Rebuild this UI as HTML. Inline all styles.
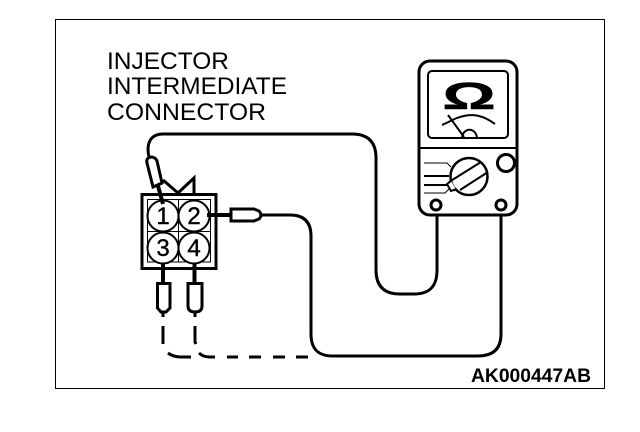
<!DOCTYPE html>
<html><head><meta charset="utf-8"><style>
html,body{margin:0;padding:0;background:#fff}
svg{display:block}
text{font-family:"Liberation Sans",sans-serif;fill:#000}
</style></head><body>
<svg width="640" height="432" viewBox="0 0 640 432" xmlns="http://www.w3.org/2000/svg">
<rect x="55.5" y="19.5" width="549" height="369" fill="none" stroke="#000" stroke-width="1"/>
<text x="107" y="69" font-size="24" textLength="122" lengthAdjust="spacingAndGlyphs">INJECTOR</text>
<text x="107" y="94" font-size="24" textLength="180" lengthAdjust="spacingAndGlyphs">INTERMEDIATE</text>
<text x="107" y="120" font-size="24" textLength="159" lengthAdjust="spacingAndGlyphs">CONNECTOR</text>
<text x="471" y="382" font-size="19" font-weight="bold" textLength="120" lengthAdjust="spacingAndGlyphs">AK000447AB</text>

<g fill="none" stroke="#000" stroke-width="3">
<!-- wires -->
<path d="M149 157 C146 144 150 134 163 134 L352 134 C368 134 376 142 376 158 L376 270 C376 286 384 294 400 294 L414 294 C430 294 437 286 437 270 L437 208"/>
<path d="M258 215 L290 215 C304 215 311 222 311 236 L311 334 C311 349 318 356 333 356 L478 356 C493 356 501 349 501 334 L501 208"/>
<!-- connector -->
<rect x="142" y="194.500" width="74" height="74" stroke-width="3"/>
<path d="M163 180 L178 193 L194 178 L194 193" />
<path d="M147.500 199.500 H210.500 V262 H147.500 Z M178.500 199 V262 M147 231.500 H211" stroke-width="1"/>
<g fill="#fff" stroke-width="2">
<circle cx="163" cy="216" r="15.500"/><circle cx="194" cy="216" r="15.500"/>
<circle cx="163" cy="248" r="15.500"/><circle cx="194" cy="248" r="15.500"/>
</g>
</g>
<g font-size="24" text-anchor="middle" stroke="#000" stroke-width="0.400">
<text x="163" y="224">1</text><text x="194" y="224">2</text>
<text x="163" y="256">3</text><text x="194" y="256">4</text>
</g>
<g fill="none" stroke="#000">
<!-- probe 1 -->
<path d="M158 186 L163 204" stroke-width="4"/>
<path d="M147 163 C145 156 155 155 157 161 L162 183 L153 187 Z" fill="#fff" stroke-width="3"/>
<!-- probe 2 -->
<path d="M207 215 L231 215" stroke-width="4"/>
<path d="M231 209 H254 L259 211 Q263 215 259 219 L254 221 H231 Z" fill="#fff" stroke-width="3"/>
<!-- lower probes -->
<path d="M163 263 V283 M194.500 263 V283" stroke-width="4"/>
<path d="M157.500 283.500 H170 V308 L166 312 H161 L157.500 308 Z M188 283.500 H202 V306 Q202 312 195 312 Q188 312 188 306 Z" fill="#fff" stroke-width="3"/>
<path d="M163 313 V317 M195 313 V317 M163 326 V344 M195 326 V342 L196 344" stroke-width="3"/>
<path d="M168 353 C172 356 176 357 181 357 H191 M199 353 C202 356 206 357 210 357 H215 M227 357 H238 M249 357 H261 M273 357 H285 M296 357 H308" stroke-width="3"/>
<!-- meter -->
<rect x="419" y="61" width="98" height="154" rx="11" fill="#fff" stroke-width="3"/>
<rect x="428" y="71" width="80" height="67" rx="4" stroke-width="2"/>
<path d="M418 148 H518" stroke-width="2"/>
<path d="M442 125 C449 122 452 120 457 118 C473 112 484 116 495 124" stroke-width="2"/>
<path d="M448 115 L464 137" stroke-width="2"/>
<path d="M462 138 C463 127 476 127 477 138" stroke-width="2"/>
<circle cx="469" cy="176.500" r="18.500" stroke-width="2.500"/>
<path d="M449 182 L481 162 M460 190 L488 172 M449 182 L455 191" stroke-width="2"/>
<path d="M451 181 L447 184 L451 191 L456 189" fill="#fff" stroke-width="2"/>
<path d="M424 163 H447 L451 167" stroke-width="1"/>
<path d="M424 176 H449 M424 185 H448" stroke-width="2"/>
<path d="M424 193 H445 L450 188" stroke-width="1"/>
<circle cx="506" cy="163" r="8.500" stroke-width="3"/>
<circle cx="436" cy="205" r="5" fill="#fff" stroke-width="3"/>
<circle cx="501" cy="205" r="5" fill="#fff" stroke-width="3"/>
</g>
<text transform="translate(469 109) scale(1.75 1)" font-size="38" font-weight="bold" text-anchor="middle" stroke="#000" stroke-width="0.500">Ω</text>
</svg>
</body></html>
